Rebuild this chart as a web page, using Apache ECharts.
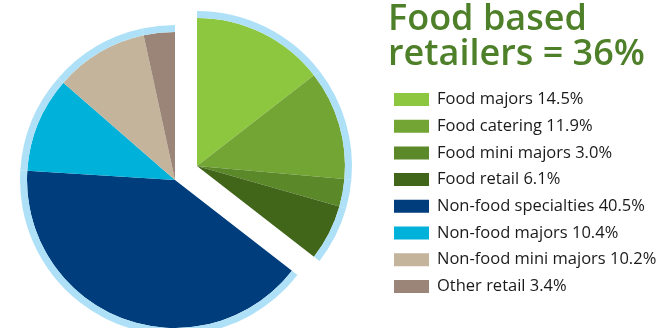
<!DOCTYPE html>
<html>
<head>
<meta charset="utf-8">
<script src="https://cdn.jsdelivr.net/npm/echarts@6/dist/echarts.min.js"></script>
<style>
  html, body { margin: 0; padding: 0; background: #ffffff; }
  #chart { width: 660px; height: 328px; }
</style>
</head>
<body>
<div id="chart"></div>
<script>
// Retail mix shares (%), clockwise from 12 o'clock
const categories = [
  'Food majors', 'Food catering', 'Food mini majors', 'Food retail',
  'Non-food specialties', 'Non-food majors', 'Non-food mini majors', 'Other retail'
];
const shares = [14.5, 11.9, 3.0, 6.1, 40.5, 10.4, 10.2, 3.4];
const isFood = [true, true, true, true, false, false, false, false];
const sliceColors = [
  '#8dc63f', '#73a535', '#5b8829', '#41661a',
  '#003d7c', '#00b1d9', '#c3b49b', '#9b8578'
];
const titleText = 'Food based\nretailers = 36%';

const ringColor = '#aee1f7';
const coreRadius = 148;
const ringRadius = 155;

// One pie per group: slices of the other group are left blank so the
// angles stay aligned while the food group sits on its own, shifted centre.
function coreSeries(food, center) {
  return {
    type: 'pie',
    center: center,
    radius: [0, coreRadius],
    startAngle: 90,
    clockwise: true,
    silent: true,
    label: { show: false },
    labelLine: { show: false },
    emphasis: { disabled: true },
    data: shares.map((v, i) => isFood[i] === food
      ? { name: categories[i], value: v, itemStyle: { color: sliceColors[i] } }
      : { name: '', value: v, itemStyle: { color: 'rgba(0,0,0,0)' } })
  };
}

function ringSeries(food, center) {
  return {
    type: 'pie',
    center: center,
    radius: [coreRadius, ringRadius],
    startAngle: 90,
    clockwise: true,
    silent: true,
    label: { show: false },
    labelLine: { show: false },
    emphasis: { disabled: true },
    data: shares.map((v, i) => ({
      name: '',
      value: v,
      itemStyle: { color: isFood[i] === food ? ringColor : 'rgba(0,0,0,0)' }
    }))
  };
}

const foodCenter = [197, 166];
const nonFoodCenter = [175, 180];

const chart = echarts.init(document.getElementById('chart'), null, { renderer: 'canvas' });
chart.setOption({
  animation: false,
  backgroundColor: '#ffffff',
  title: {
    text: titleText,
    left: 388,
    top: 2,
    padding: 0,
    textStyle: {
      fontFamily: 'Open Sans',
      fontWeight: 600,
      fontSize: 36,
      lineHeight: 35,
      color: '#4e7f29'
    }
  },
  legend: {
    orient: 'vertical',
    left: 394,
    top: 91,
    padding: 0,
    itemWidth: 35,
    itemHeight: 13,
    itemGap: 9.7,
    icon: 'rect',
    selectedMode: false,
    data: categories,
    formatter: name => {
      const i = categories.indexOf(name);
      return name + ' ' + shares[i].toFixed(1) + '%';
    },
    textStyle: {
      fontFamily: 'Open Sans',
      fontWeight: 500,
      fontSize: 16.5,
      lineHeight: 14,
      color: '#1a1a1a',
      padding: [0, 0, 0, 3]
    }
  },
  series: [
    coreSeries(true, foodCenter),
    coreSeries(false, nonFoodCenter),
    ringSeries(true, foodCenter),
    ringSeries(false, nonFoodCenter)
  ]
});
</script>
</body>
</html>
